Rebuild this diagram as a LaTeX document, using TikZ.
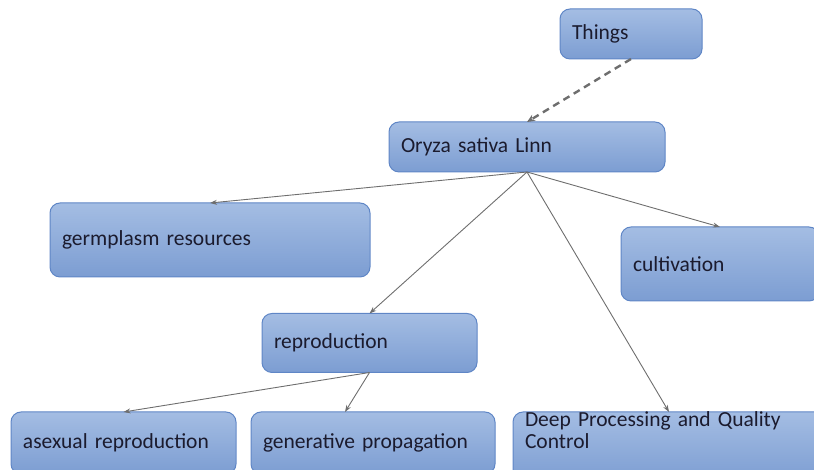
\documentclass[tikz,border=0pt]{standalone}
\usepackage{fontspec}
\setmainfont{Carlito}
\usetikzlibrary{arrows.meta}
\definecolor{boxtop}{HTML}{A4BDE3}
\definecolor{boxbot}{HTML}{7C9DD2}
\definecolor{boxline}{HTML}{5F86C6}
\definecolor{boxtext}{HTML}{1B1B2E}
\definecolor{linkgray}{HTML}{6E6E6E}
\newcommand\boxfont{\fontsize{21.5}{21.5}\selectfont\spaceskip=0.12em plus 0.05em\relax}
\begin{document}
\begin{tikzpicture}[x=1pt,y=1pt,inner sep=0pt,outer sep=0pt,>={Stealth[length=7pt,width=5pt]},
conceptbox/.style={draw=boxline,line width=1pt,rectangle,rounded corners=10pt,top color=boxtop,bottom color=boxbot,
  text=boxtext,font=\boxfont,inner xsep=12pt,inner ysep=0pt,align=left},
link/.style={draw=linkgray,line width=0.9pt}]
\clip (0,0) rectangle (814,470);

\draw (631,436) node[conceptbox,minimum width=142,minimum height=50,text width=118] (things) {Things};
\draw (527,323) node[conceptbox,minimum width=276,minimum height=50,text width=252] (oryza) {Oryza sativa Linn};
\draw (210,230) node[conceptbox,minimum width=320,minimum height=74,text width=296] (germ) {germplasm resources};
\draw (720,206) node[conceptbox,minimum width=198,minimum height=74,text width=174] (cult) {cultivation};
\draw (369.5,127) node[conceptbox,minimum width=215,minimum height=59,text width=191] (repro) {reproduction};
\draw (123.5,27) node[conceptbox,minimum width=225,minimum height=62,text width=201] (asex) {asexual reproduction};
\draw (373,27) node[conceptbox,minimum width=244,minimum height=62,text width=220] (gen) {generative propagation};
\draw (513,58) node[conceptbox,anchor=north west,minimum width=312,text width=288,text depth=55pt] (deep) {Deep Processing and Quality\\Control};

\draw[link,->,dashed,line width=2.4pt,dash pattern=on 7pt off 5pt,>={Stealth[length=8pt,width=7pt]}] (things.south) -- (oryza.north);
\draw[link,->] (oryza.south) -- (germ.north);
\draw[link,->] (oryza.south) -- (cult.north);
\draw[link,->] (oryza.south) -- (repro.north);
\draw[link,->] (oryza.south) -- ([xshift=156pt]deep.north west);
\draw[link,->] (repro.south) -- (asex.north);
\draw[link,->] (repro.south) -- ([xshift=-28pt]gen.north);
\end{tikzpicture}
\end{document}
